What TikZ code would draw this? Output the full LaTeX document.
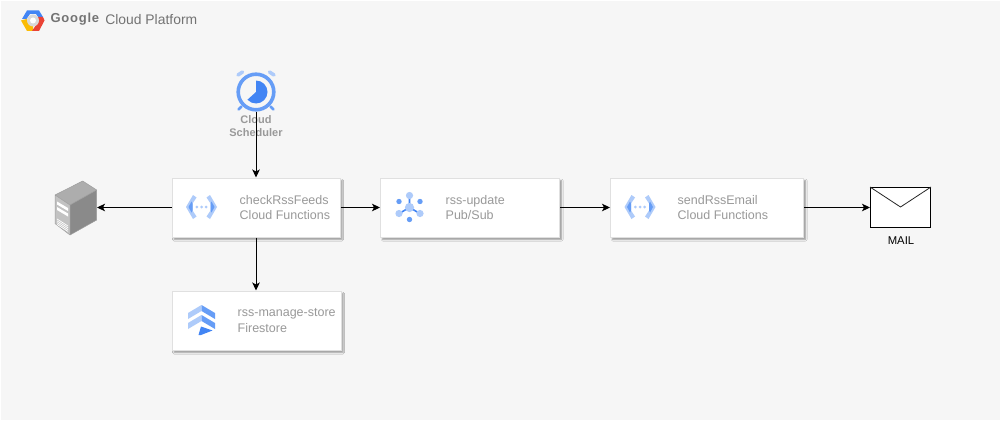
\documentclass[tikz,border=0pt]{standalone}
\usepackage{fontspec}
\setmainfont{Liberation Sans}
\usetikzlibrary{arrows.meta,shadows.blur}
\definecolor{bgc}{HTML}{F6F6F6}
\definecolor{txtc}{HTML}{999999}
\definecolor{lb}{HTML}{AECBFA}
\definecolor{mb}{HTML}{669DF6}
\definecolor{db}{HTML}{4285F4}
\definecolor{gy}{HTML}{FBBC05}
\definecolor{gr}{HTML}{EA4335}
\tikzset{
  x=1pt,y=-1pt,
  card/.style={draw=black!12,line width=1pt,fill=white,inner sep=0pt,
    blur shadow={shadow xshift=2pt,shadow yshift=-2.5pt,shadow blur radius=1.5pt,shadow opacity=38}},
  cardtext/.style={anchor=west,align=left,inner sep=0pt,text=txtc,font=\fontsize{12.5}{15.4}\selectfont},
  link/.style={line width=1pt,-{Stealth[length=8pt,width=7.5pt,inset=2pt]}},
  hidden/.style={inner sep=0pt,outer sep=0pt,draw=none},
  pics/cfn/.style={code={
    \foreach \s in {-1,1}{
      \fill[lb] (\s*15.5,0)--(\s*8.5,-12)--(\s*5,-9.5)--(\s*9,-3.5)--(\s*9,3.5)--(\s*5,9.5)--(\s*8.5,12)--cycle;
      \fill[mb] (\s*13,0)--(\s*10,-5.5)--(\s*9,-3.5)--(\s*9,3.5)--(\s*10,5.5)--cycle;
    }
    \fill[lb] (-4.6,0) circle[radius=1.5pt] (0,0) circle[radius=1.5pt] (4.6,0) circle[radius=1.5pt];
  }},
  pics/pubsub/.style={code={
    \draw[db,line width=1.6pt] (0,0)--(0,-11) (0,0)--(-9.5,5.5) (0,0)--(9.5,5.5);
    \fill[lb] (0,-12) circle[radius=3.6pt] (-10.5,6) circle[radius=3.6pt] (10.5,6) circle[radius=3.6pt] (0,0) circle[radius=4.6pt];
    \fill[mb] (-10.5,-6) circle[radius=2.7pt] (10.5,-6) circle[radius=2.7pt] (0,12) circle[radius=2.7pt];
  }},
  pics/fstore/.style={code={
    \fill[lb] (-13.5,-7)--(0,-15)--(0,-9)--(-13.5,-1)--cycle;
    \fill[mb] (13.5,-7)--(0,-15)--(0,-9)--(13.5,-1)--cycle;
    \fill[lb] (-13.5,3)--(0,-5)--(0,1)--(-13.5,9)--cycle;
    \fill[mb] (13.5,3)--(0,-5)--(0,1)--(13.5,9)--cycle;
    \fill[db] (-0.5,6.5)--(11,10.5)--(-0.5,15)--(-3,15)--cycle;
  }},
  pics/clock/.style={code={
    \draw[line width=3.6pt,line cap=round,lb] (-18,-17)--(-13.5,-20) (18,-17)--(13.5,-20);
    \draw[line width=2.6pt,line cap=round,mb] (-17.5,17.5)--(-14.5,14.5) (17.5,17.5)--(14.5,14.5);
    \fill[db] (0,0)--(0,-11.5) arc[start angle=90,end angle=-138,radius=11.5pt]--cycle;
    \draw[mb,line width=3.6pt] (0,0) circle[radius=17.8pt];
  }},
}
\begin{document}
\begin{tikzpicture}
\useasboundingbox (0,0) rectangle (1000,420);
\fill[bgc] (1,1) rectangle (1000,420);

% title
\fill[db] (26.5,19)--(22,19)--(27,10.5)--(39,10.5)--(43,17)--(38,17)--(36,14)--(30,14)--cycle;
\fill[gy] (21,20.5)--(26.5,19)--(30,25)--(33,25.5)--(33,31)--(27,31)--cycle;
\fill[gr] (38,17)--(43,17)--(44.5,20.5)--(39,31)--(32,31)--(36,25)--cycle;
\fill[black!15] (33,20.5) circle[radius=6pt];
\fill[white] (33,20.5) circle[radius=3pt];
\node[hidden,anchor=west,text=black!55,font=\bfseries\fontsize{13}{15}\selectfont] (title) at (50.5,19.5)
  {\addfontfeatures{LetterSpace=6}Google};
\node[hidden,anchor=west,text=black!55,font=\fontsize{13.9}{15}\selectfont] (titleb) at (105.3,19.5)
  {Cloud Platform};

% cards
\node[card,minimum width=168pt,minimum height=59pt] (check) at (256,207.5) {};
\node[card,minimum width=179pt,minimum height=59pt] (pub) at (470,207.5) {};
\node[card,minimum width=193pt,minimum height=59pt] (send) at (707,207.5) {};
\node[card,minimum width=169pt,minimum height=59pt] (store) at (256.5,320.5) {};

\pic at (201.5,207) {cfn};
\pic at (409.5,207.5) {pubsub};
\pic at (640,207) {cfn};
\pic at (201.5,320) {fstore};

\node[cardtext] (checkt) at (239.5,207.5) {checkRssFeeds\\Cloud Functions};
\node[cardtext] (pubt) at (445.5,207.5) {rss-update\\Pub/Sub};
\node[cardtext] (sendt) at (677.5,207.5) {sendRssEmail\\Cloud Functions};
\node[cardtext] (storet) at (237.5,320.5) {rss-manage-store\\Firestore};

% clock
\node[hidden,minimum width=39pt,minimum height=39pt] (clock) at (256,92) {};
\pic at (256,92) {clock};
\node[hidden,align=center,text=txtc,font=\bfseries\fontsize{11}{13}\selectfont] (clockt) at (256,126) {Cloud\\Scheduler};

% server
\node[hidden,minimum width=42pt,minimum height=54pt] (server) at (76,207.5) {};
\fill[black!32] (55,195)--(82.7,181)--(96.7,190)--(70,205)--cycle;
\fill[black!24] (55,195)--(70,205)--(70,235)--(55,223.5)--cycle;
\fill[black!46] (70,205)--(96.7,190)--(96.7,220)--(70,235)--cycle;
\draw[black!38,line width=.5pt,line join=round] (55,195)--(82.7,181)--(96.7,190)--(96.7,220)--(70,235)--(55,223.5)--cycle (55,195)--(70,205)--(96.7,190) (70,205)--(70,235);
\fill[white] (57,201.5)--(68,208)--(68,211)--(57,204.5)--cycle (57,207)--(68,213.5)--(68,216.5)--(57,210)--cycle;
\foreach \d in {0,1.8,3.6,5.4}
  \draw[white,line width=.7pt] (57,219+\d)--(68,226+\d);

% mail
\node[draw=black,fill=white,line width=1pt,minimum width=60pt,minimum height=40pt,inner sep=0pt] (mail) at (900.5,207.5) {};
\draw[line width=.8pt,black!85] (mail.north west)--(mail.center |- 0,207)--(mail.north east);
\node[hidden,font=\fontsize{11.3}{13}\selectfont] (mailt) at (901,241) {MAIL};

% connectors
\draw[link] (clock.south)--(check.north);
\draw[link] (check.west)--(server.east);
\draw[link] (check.east)--(pub.west);
\draw[link] (pub.east)--(send.west);
\draw[link] (send.east)--(mail.west);
\draw[link] (check.south)--(store.north-|check.south);
\end{tikzpicture}
\end{document}
